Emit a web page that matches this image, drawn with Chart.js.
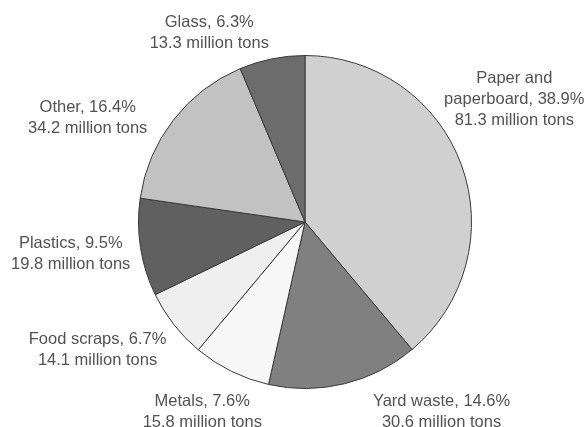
<!DOCTYPE html>
<html>
<head>
<meta charset="utf-8">
<script src="https://cdn.jsdelivr.net/npm/chart.js@4/dist/chart.umd.min.js"></script>
<style>
  html, body { margin: 0; padding: 0; background: #fff; }
  #wrap { width: 588px; height: 427px; }
</style>
</head>
<body>
<div id="wrap"><canvas id="pie-chart" width="588" height="427"></canvas></div>
<script>
// data, clockwise from 12 o'clock
const categories = ["Paper and\npaperboard", "Yard waste", "Metals", "Food scraps", "Plastics", "Other", "Glass"];
const percents = ["38.9%", "14.6%", "7.6%", "6.7%", "9.5%", "16.4%", "6.3%"];
const tons = [81.3, 30.6, 15.8, 14.1, 19.8, 34.2, 13.3];

const fills = ["#d0d0d0", "#808080", "#f7f7f7", "#efefef", "#606060", "#c2c2c2", "#6c6c6c"];
// label centre, as a multiple of the pie radius from the pie centre
const labelAt = [[1.257, -0.737], [0.82, 1.138], [-0.617, 1.138], [-1.246, 0.766], [-1.407, 0.192], [-1.305, -0.623], [-0.575, -1.138]];

const outsideLabels = {
  id: 'outsideLabels',
  afterDraw(chart) {
    const ctx = chart.ctx;
    const arcs = chart.getDatasetMeta(0).data;
    ctx.save();
    ctx.font = '16.5px "Liberation Sans", Arial, sans-serif';
    ctx.fillStyle = '#525252';
    ctx.textAlign = 'center';
    ctx.textBaseline = 'middle';
    arcs.forEach((arc, i) => {
      const r = arc.outerRadius;
      const cx = arc.x + labelAt[i][0] * r;
      const cy = arc.y + labelAt[i][1] * r;
      const name = categories[i].split("\n");
      name[name.length - 1] += ", " + percents[i];
      const lines = name.concat([tons[i].toFixed(1) + " million tons"]);
      const lh = 21;
      lines.forEach((t, k) => {
        ctx.fillText(t, cx, cy + (k - (lines.length - 1) / 2) * lh);
      });
    });
    ctx.restore();
  }
};

new Chart(document.getElementById("pie-chart"), {
  type: 'pie',
  data: {
    labels: categories,
    datasets: [{
      data: tons,
      backgroundColor: fills,
      borderColor: "#3a3a3a",
      borderWidth: 1
    }]
  },
  options: {
    responsive: false,
    animation: false,
    layout: { padding: { left: 138, right: 116, top: 55, bottom: 38 } },
    plugins: {
      legend: { display: false },
      tooltip: { enabled: false }
    }
  },
  plugins: [outsideLabels]
});
</script>
</body>
</html>
